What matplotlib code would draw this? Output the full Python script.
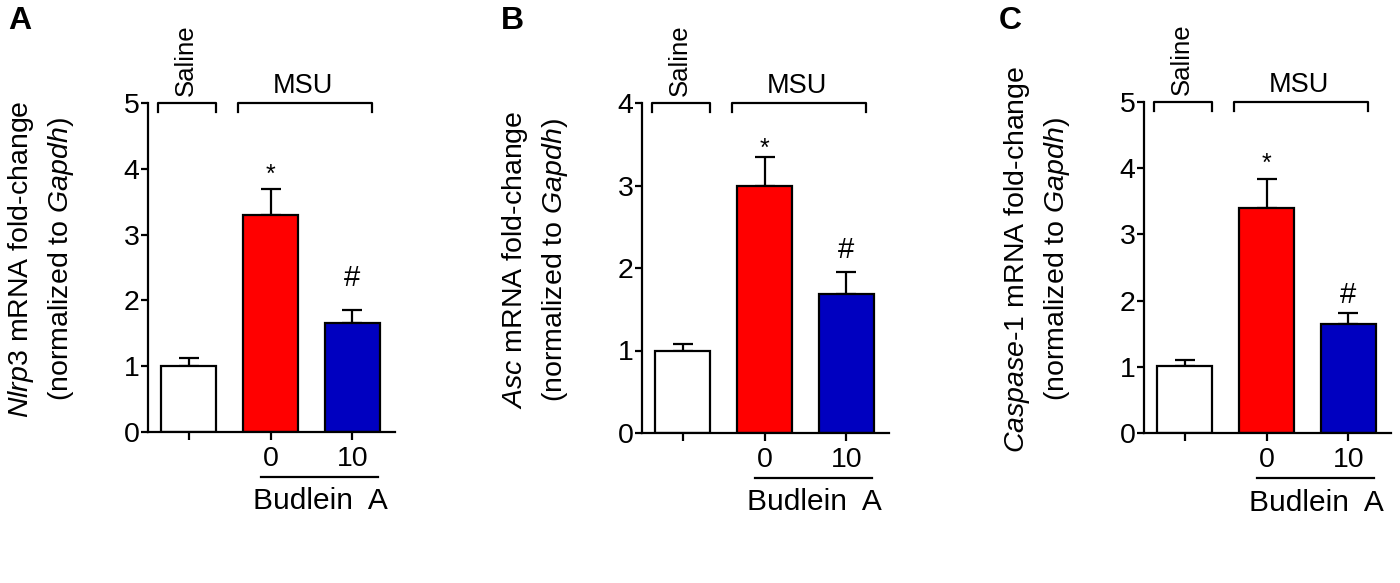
import matplotlib
matplotlib.use("Agg")
import matplotlib.pyplot as plt
import matplotlib.transforms as mtransforms

plt.rcParams["font.family"] = ["Liberation Sans", "DejaVu Sans"]
plt.rcParams["mathtext.fontset"] = "custom"
plt.rcParams["mathtext.rm"] = "Liberation Sans"
plt.rcParams["mathtext.it"] = "Liberation Sans:italic"

# ---- data ----
panel_letters = ["A", "B", "C"]
genes = [r"$\it{Nlrp3}$", r"$\it{Asc}$", r"$\it{Caspase}$-$\it{1}$"]
y_max = [5, 4, 5]

means_a = [1.0, 3.3, 1.65]
errs_a = [0.13, 0.40, 0.20]
means_b = [1.0, 3.0, 1.69]
errs_b = [0.08, 0.35, 0.26]
means_c = [1.01, 3.40, 1.65]
errs_c = [0.09, 0.44, 0.16]

star_y = [3.8, 3.36, 3.96]   # "*" over MSU + vehicle
hash_y = [2.22, 2.12, 1.96]   # "#" over MSU + Budlein A

dose_labels = ["", "0", "10"]
bar_colors = ["white", "#ff0000", "#0000c0"]

means = [means_a, means_b, means_c]
errs = [errs_a, errs_b, errs_c]

W, H = 1400, 583
fig = plt.figure(figsize=(14, 5.83), dpi=100)

# axes placement in pixels: (left spine x, y of 0, y of top)
ax_px = [(148, 432, 103), (642, 433, 103), (1144, 433, 102)]
ax_wpx = 247
letter_px = [8, 501, 999]

for i in range(3):
    x0, yb, yt = ax_px[i]
    ax = fig.add_axes([x0 / W, (H - yb) / H, ax_wpx / W, (yb - yt) / H])
    xs = [0, 1, 2]
    ax.bar(xs, means[i], width=0.67, color=bar_colors, edgecolor="black",
           linewidth=1.6, zorder=2)
    ax.errorbar(xs, means[i], yerr=[[0, 0, 0], errs[i]], fmt="none",
                ecolor="black", elinewidth=1.6, capsize=7, capthick=1.6, zorder=1)

    ax.set_xlim(-0.5, 2.52)
    ax.set_ylim(0, y_max[i])
    ax.set_yticks(range(y_max[i] + 1))
    ax.set_xticks(xs)
    ax.set_xticklabels(dose_labels)
    for s in ("top", "right"):
        ax.spines[s].set_visible(False)
    for s in ("left", "bottom"):
        ax.spines[s].set_linewidth(1.6)
    ax.tick_params(axis="y", length=5, width=1.6, pad=1, labelsize=20.5)
    ax.tick_params(axis="x", length=6, width=1.6, pad=4, labelsize=20.5)

    # significance marks
    ax.text(1, star_y[i], "*", ha="center", va="baseline", fontsize=18)
    ax.text(2, hash_y[i], "#", ha="center", va="baseline", fontsize=21)

    # group brackets above the axes
    tr = mtransforms.blended_transform_factory(ax.transData, ax.transAxes)
    for (xa, xb) in [(-0.38, 0.33), (0.6, 2.24)]:
        ax.plot([xa, xa, xb, xb], [0.973, 1.0, 1.0, 0.973], color="black",
                lw=1.6, transform=tr, clip_on=False)
    ax.text(-0.04, 1.02, "Saline", rotation=90, ha="center", va="bottom",
            fontsize=18.5, transform=tr)
    ax.text(1.4, 1.013, "MSU", ha="center", va="bottom", fontsize=19.5,
            transform=tr)

    # Budlein A underline + label
    ax.plot([0.88, 2.31], [-0.137, -0.137], color="black", lw=1.6,
            transform=tr, clip_on=False)
    ax.text(1.61, -0.21, "Budlein  A", ha="center", va="center", fontsize=21.5,
            transform=tr)

    # y label (two lines)
    ax.text(-127 / ax_wpx, 0.525, genes[i] + " mRNA fold-change", rotation=90,
            ha="center", va="center", fontsize=20.5, transform=ax.transAxes)
    ax.text(-87 / ax_wpx, 0.525, r"(normalized to $\it{Gapdh}$)", rotation=90,
            ha="center", va="center", fontsize=20.5, transform=ax.transAxes)

    fig.text(letter_px[i] / W, 1 - 6 / H, panel_letters[i], ha="left", va="top",
             fontsize=23, fontweight="bold")

fig.savefig("out.png", dpi=100)
